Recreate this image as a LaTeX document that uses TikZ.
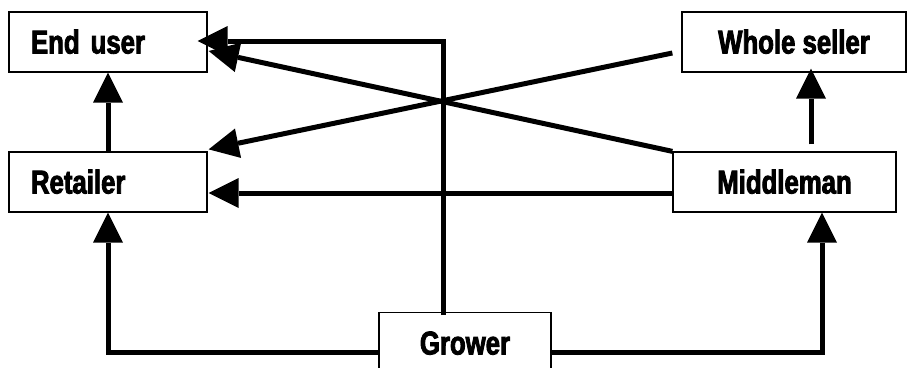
\documentclass[tikz,border=0pt]{standalone}
\usepackage{fontspec}
\setmainfont{Liberation Sans}[BoldFeatures={FakeStretch=0.78,FakeBold=2.6}]
\usetikzlibrary{arrows.meta}
\begin{document}
\begin{tikzpicture}[x=1pt,y=-1pt,
  box/.style={draw, line width=1.3pt, minimum height=60pt, inner sep=0pt,
    text height=23pt, text depth=0pt, font=\fontsize{33}{33}\selectfont\bfseries},
  lbl/.style={inner sep=0pt, text height=23pt, text depth=0pt, font=\fontsize{33}{33}\selectfont\bfseries},
  conn/.style={line width=5pt, -{Triangle[length=30pt,width=30pt,line width=0pt]}}]
\useasboundingbox (0,0) rectangle (909,367);
\clip (0,0) rectangle (909,367);

\node[box, minimum width=198pt, text width=154pt, align=left, inner xsep=22pt] (eu) at (108,42) {End user};
\node[box, minimum width=198pt, text width=154pt, align=left, inner xsep=22pt] (ret) at (108,182) {Retailer};
\node[box, minimum width=224pt] (ws) at (794,42) {Whole seller};
\node[box, minimum width=223pt] (mid) at (784.5,182) {Middleman};
\node[box, minimum width=172pt, minimum height=110pt, anchor=north] (gro) at (465,312) {};
\node[lbl] (grot) at (465,343) {Grower};

\draw[conn] ([xshift=-22pt,yshift=-3pt]gro.north) |- ([xshift=-10pt,yshift=1pt]eu.east);
\draw[conn] (mid.north west) -- ([xshift=1pt,yshift=-9pt]eu.east);
\draw[conn] ([xshift=-9pt,yshift=-11pt]ws.west) -- ([xshift=1pt,yshift=2pt]ret.north east);
\draw[conn] ([yshift=-11pt]mid.west) -- ([xshift=1pt,yshift=-11pt]ret.east);
\draw[conn] (ret.north) -- (eu.south);
\draw[conn] ([xshift=26.5pt,yshift=7pt]mid.north) -- ([xshift=17pt,yshift=4pt]ws.south);
\draw[conn] ([yshift=-40pt]gro.north west) -| (ret.south);
\draw[conn] ([yshift=-40pt]gro.north east) -| ([xshift=37.5pt]mid.south);
\end{tikzpicture}
\end{document}
